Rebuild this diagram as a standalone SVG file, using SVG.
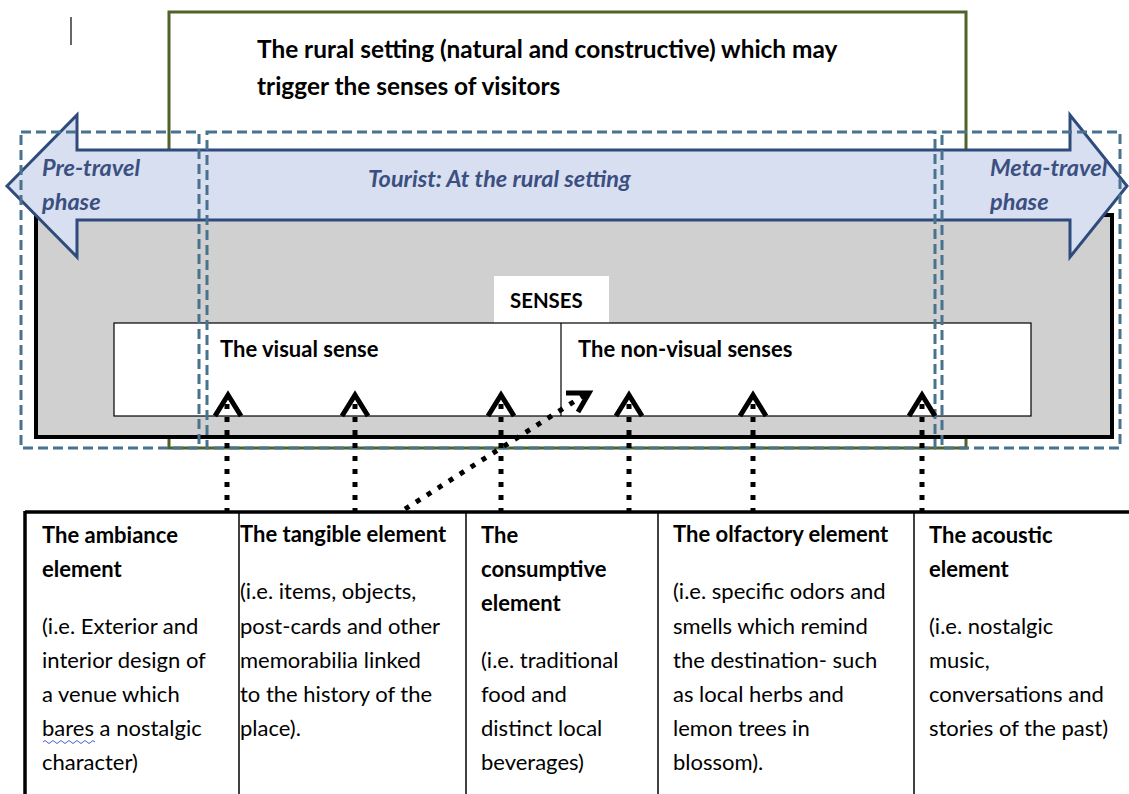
<svg xmlns="http://www.w3.org/2000/svg" width="1129" height="794" viewBox="0 0 1129 794">
<style>
text{font-family:Lato,"Open Sans","Liberation Sans",sans-serif;fill:#000}
.b{font-weight:bold}
.t{font-size:22px}
.h{font-size:22px;font-weight:bold}
.lab{font-size:23.5px;font-weight:bold;font-style:italic;fill:#3b4f80}
.dash{fill:none;stroke:#48728e;stroke-width:3;stroke-dasharray:10 5}
.dot{fill:none;stroke:#000;stroke-width:5;stroke-dasharray:5 8}
.chev{fill:none;stroke:#000;stroke-width:5;stroke-linejoin:miter}
.cell{fill:none;stroke:#000;stroke-width:1.5}
</style>
<rect width="1129" height="794" fill="#fff"/>
<line x1="71" y1="17" x2="71" y2="45" stroke="#000" stroke-width="1.2"/>
<g id="rural-setting">
<rect x="169" y="12" width="797" height="436" fill="#fff" stroke="#4f6228" stroke-width="3"/>
<text class="b" x="257" y="58" font-size="24.4">The rural setting (natural and constructive) which may</text>
<text class="b" x="257" y="95" font-size="24.4">trigger the senses of visitors</text>
</g>
<g id="gray-area">
<rect x="36" y="215" width="1076" height="222" fill="#d0d0d0" stroke="#000" stroke-width="4"/>
</g>
<g id="phase-arrow">
<polygon points="7,186 77,115 77,150 1070,150 1070,115 1127,186 1070,257 1070,220 77,220 77,257" fill="#d7dff0" stroke="#2f4b7c" stroke-width="3" stroke-linejoin="miter"/>
<text class="lab" x="42" y="176">Pre-travel</text>
<text class="lab" x="42" y="210">phase</text>
<text class="lab" x="368" y="187">Tourist: At the rural setting</text>
<text class="lab" x="990" y="176">Meta-travel</text>
<text class="lab" x="990" y="210">phase</text>
</g>
<g id="senses">
<rect x="494" y="276" width="115" height="47" fill="#fff"/>
<text class="b" x="510" y="308" font-size="20.4">SENSES</text>
<rect x="114" y="323" width="917" height="93" fill="#fff" stroke="#000" stroke-width="1.2"/>
<line x1="561" y1="323" x2="561" y2="416" stroke="#000" stroke-width="1.2"/>
<text class="h" x="220" y="357">The visual sense</text>
<text class="h" x="578" y="357">The non-visual senses</text>
</g>
<g id="phases">
<rect x="21" y="132" width="178" height="316" class="dash"/>
<rect x="207" y="132" width="728" height="316" class="dash"/>
<rect x="942" y="132" width="178" height="316" class="dash"/>
</g>
<g id="connectors">
<line x1="227" y1="404" x2="227" y2="511" class="dot"/>
<line x1="355" y1="404" x2="355" y2="511" class="dot"/>
<line x1="501" y1="404" x2="501" y2="511" class="dot"/>
<line x1="629" y1="404" x2="629" y2="511" class="dot"/>
<line x1="753" y1="404" x2="753" y2="511" class="dot"/>
<line x1="922" y1="404" x2="922" y2="511" class="dot"/>
<path class="chev" d="M215,416 L228,395 L241,416"/>
<path class="chev" d="M342,416 L355,395 L368,416"/>
<path class="chev" d="M488,416 L501,395 L514,416"/>
<path class="chev" d="M616,416 L629,395 L642,416"/>
<path class="chev" d="M740,416 L753,395 L766,416"/>
<path class="chev" d="M909,416 L922,395 L935,416"/>
<line x1="405" y1="509" x2="586" y2="394" class="dot"/>
<path class="chev" d="M566,393 L589,393 L578,412"/>
</g>
<g id="elements-table">
<line x1="25" y1="512" x2="1129" y2="512" stroke="#000" stroke-width="3.5"/>
<line x1="25" y1="511" x2="25" y2="794" stroke="#000" stroke-width="3.5"/>
<line x1="239" y1="512" x2="239" y2="794" class="cell"/>
<line x1="466" y1="512" x2="466" y2="794" class="cell"/>
<line x1="658" y1="512" x2="658" y2="794" class="cell"/>
<line x1="914" y1="512" x2="914" y2="794" class="cell"/>
</g>
<g id="ambiance">
<text class="h" x="42" y="543">The ambiance</text>
<text class="h" x="42" y="577">element</text>
<text class="t" x="42" y="634">(i.e. Exterior and</text>
<text class="t" x="42" y="668">interior design of</text>
<text class="t" x="42" y="702">a venue which</text>
<text class="t" x="42" y="736">bares a nostalgic</text>
<text class="t" x="42" y="770">character)</text>
<path d="M43,742 q2,-3 4,0 t4,0 t4,0 t4,0 t4,0 t4,0 t4,0 t4,0 t4,0 t4,0 t4,0 t4,0 t4,0" fill="none" stroke="#4a5fd0" stroke-width="1"/>
</g>
<g id="tangible">
<text class="h" x="240" y="542">The tangible element</text>
<text class="t" x="240" y="599">(i.e. items, objects,</text>
<text class="t" x="240" y="634">post-cards and other</text>
<text class="t" x="240" y="668">memorabilia linked</text>
<text class="t" x="240" y="702">to the history of the</text>
<text class="t" x="240" y="736">place).</text>
</g>
<g id="consumptive">
<text class="h" x="481" y="543">The</text>
<text class="h" x="481" y="577">consumptive</text>
<text class="h" x="481" y="611">element</text>
<text class="t" x="481" y="668">(i.e. traditional</text>
<text class="t" x="481" y="702">food and</text>
<text class="t" x="481" y="736">distinct local</text>
<text class="t" x="481" y="770">beverages)</text>
</g>
<g id="olfactory">
<text class="h" x="673" y="542">The olfactory element</text>
<text class="t" x="673" y="599">(i.e. specific odors and</text>
<text class="t" x="673" y="634">smells which remind</text>
<text class="t" x="673" y="668">the destination- such</text>
<text class="t" x="673" y="702">as local herbs and</text>
<text class="t" x="673" y="736">lemon trees in</text>
<text class="t" x="673" y="770">blossom).</text>
</g>
<g id="acoustic">
<text class="h" x="929" y="543">The acoustic</text>
<text class="h" x="929" y="577">element</text>
<text class="t" x="929" y="634">(i.e. nostalgic</text>
<text class="t" x="929" y="668">music,</text>
<text class="t" x="929" y="702">conversations and</text>
<text class="t" x="929" y="736">stories of the past)</text>
</g>
</svg>
